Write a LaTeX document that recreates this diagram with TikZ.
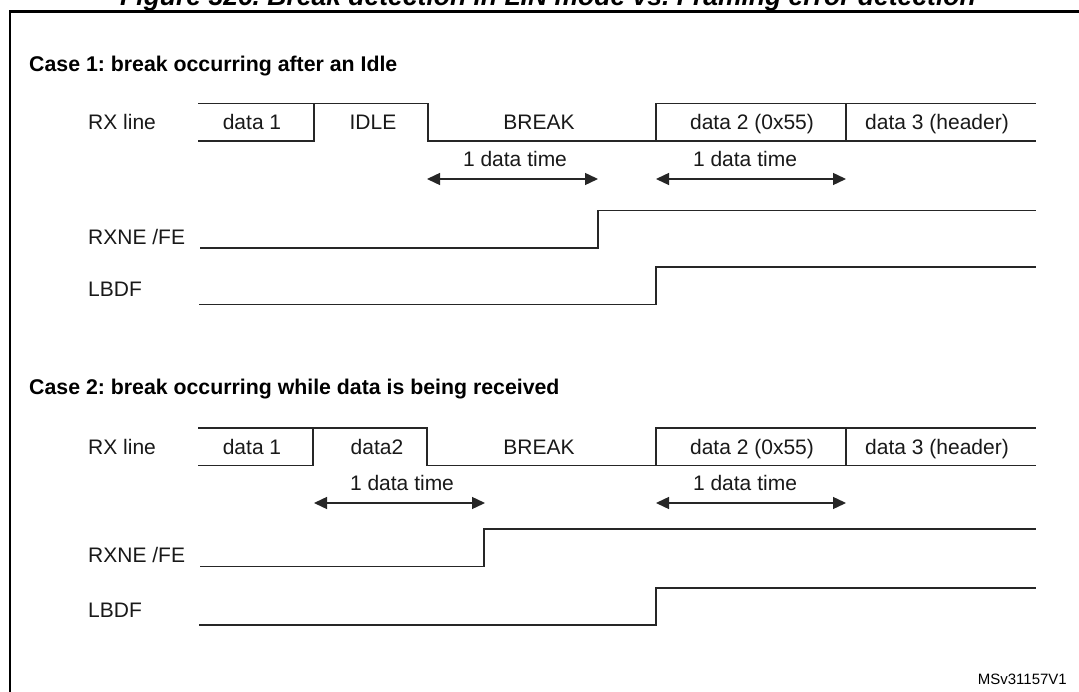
\documentclass[tikz,border=0pt]{standalone}
\usepackage{fontspec}
\setmainfont{Liberation Sans}
\usetikzlibrary{arrows.meta}
\frenchspacing
\begin{document}
\begin{tikzpicture}[x=1pt,y=-1pt,
  wave/.style={line width=1.4pt, draw=black!85, line join=miter, line cap=rect},
  lbl/.style={font=\fontsize{21}{25}\selectfont, anchor=base, inner sep=0pt, text=black!90},
  lblw/.style={lbl, anchor=base west},
  dtime/.style={line width=1.4pt, draw=black!85, {Triangle[length=13pt,width=12pt]}-{Triangle[length=13pt,width=12pt]}},
  casehead/.style={font=\fontsize{21.3}{25}\selectfont\bfseries, anchor=base west, inner sep=0pt}]
\useasboundingbox (0,0) rectangle (1079,692);
\fill[white] (0,0) rectangle (1079,692);
% title (cut at the top) and frame
\node[anchor=base west, inner sep=0pt, font=\fontsize{26.5}{30}\selectfont\bfseries\itshape] (title) at (120,6) {Figure 326. Break detection in LIN mode vs. Framing error detection};
\draw[line width=2.6pt] (1100,11.5) -- (10,11.5) -- (10,720);

% ---------------- Case 1 ----------------
\node[casehead] (c1) at (29,72) {Case 1: break occurring after an Idle};
\node[lblw] (rx1) at (88,129.5) {RX line};
\draw[wave] (199,103.3) -- (428,103.3) -- (428,141) -- (656,141);
\draw[wave] (199,141) -- (314,141) -- (314,103.3);
\draw[wave] (656,141) -- (656,103.3) -- (1035,103.3);
\draw[wave] (656,141) -- (1035,141);
\draw[wave] (846,103.3) -- (846,141);
\node[lbl] (d11) at (252,129.5) {data 1};
\node[lbl] (idle1) at (373,129.5) {IDLE};
\node[lbl] (brk1) at (539,129.5) {BREAK};
\node[lbl] (d21) at (752,129.5) {data 2 (0x55)};
\node[lbl] (d31) at (937,129.5) {data 3 (header)};
\node[lbl] (t11) at (515,166.5) {1 data time};
\node[lbl] (t12) at (745,166.5) {1 data time};
\coordinate (a11) at (427,179);
\coordinate (b11) at (598,179);
\coordinate (a12) at (656,179);
\coordinate (b12) at (846,179);
\draw[dtime] (a11) -- (b11);
\draw[dtime] (a12) -- (b12);
\node[lblw] (rxne1) at (88,244.5) {RXNE /FE};
\draw[wave] (201,248) -- (598,248) -- (598,210.5) -- (1035,210.5);
\node[lblw] (lbdf1) at (88,296.5) {LBDF};
\draw[wave] (200,304.3) -- (656,304.3) -- (656,267) -- (1035,267);

% ---------------- Case 2 ----------------
\node[casehead] (c2) at (29,395) {Case 2: break occurring while data is being received};
\node[lblw] (rx2) at (88,454) {RX line};
\draw[wave] (199,428) -- (427,428) -- (427,465.5) -- (656,465.5);
\draw[wave] (199,465.5) -- (313,465.5) -- (313,428);
\draw[wave] (656,465.5) -- (656,428) -- (1035,428);
\draw[wave] (656,465.5) -- (1035,465.5);
\draw[wave] (846,428) -- (846,465.5);
\node[lbl] (d12) at (252,454) {data 1};
\node[lbl] (d2b) at (377,454) {data2};
\node[lbl] (brk2) at (539,454) {BREAK};
\node[lbl] (d22) at (752,454) {data 2 (0x55)};
\node[lbl] (d32) at (937,454) {data 3 (header)};
\node[lbl] (t21) at (402,490.5) {1 data time};
\node[lbl] (t22) at (745,490.5) {1 data time};
\coordinate (a21) at (314,503);
\coordinate (b21) at (485,503);
\coordinate (a22) at (656,503);
\coordinate (b22) at (846,503);
\draw[dtime] (a21) -- (b21);
\draw[dtime] (a22) -- (b22);
\node[lblw] (rxne2) at (88,562.5) {RXNE /FE};
\draw[wave] (201,566.5) -- (484,566.5) -- (484,529) -- (1035,529);
\node[lblw] (lbdf2) at (88,617.5) {LBDF};
\draw[wave] (200,625) -- (656,625) -- (656,588) -- (1035,588);

\node[anchor=base east, inner sep=0pt, font=\fontsize{15}{18}\selectfont] (ref) at (1067,684) {MSv31157V1};
\end{tikzpicture}
\end{document}
